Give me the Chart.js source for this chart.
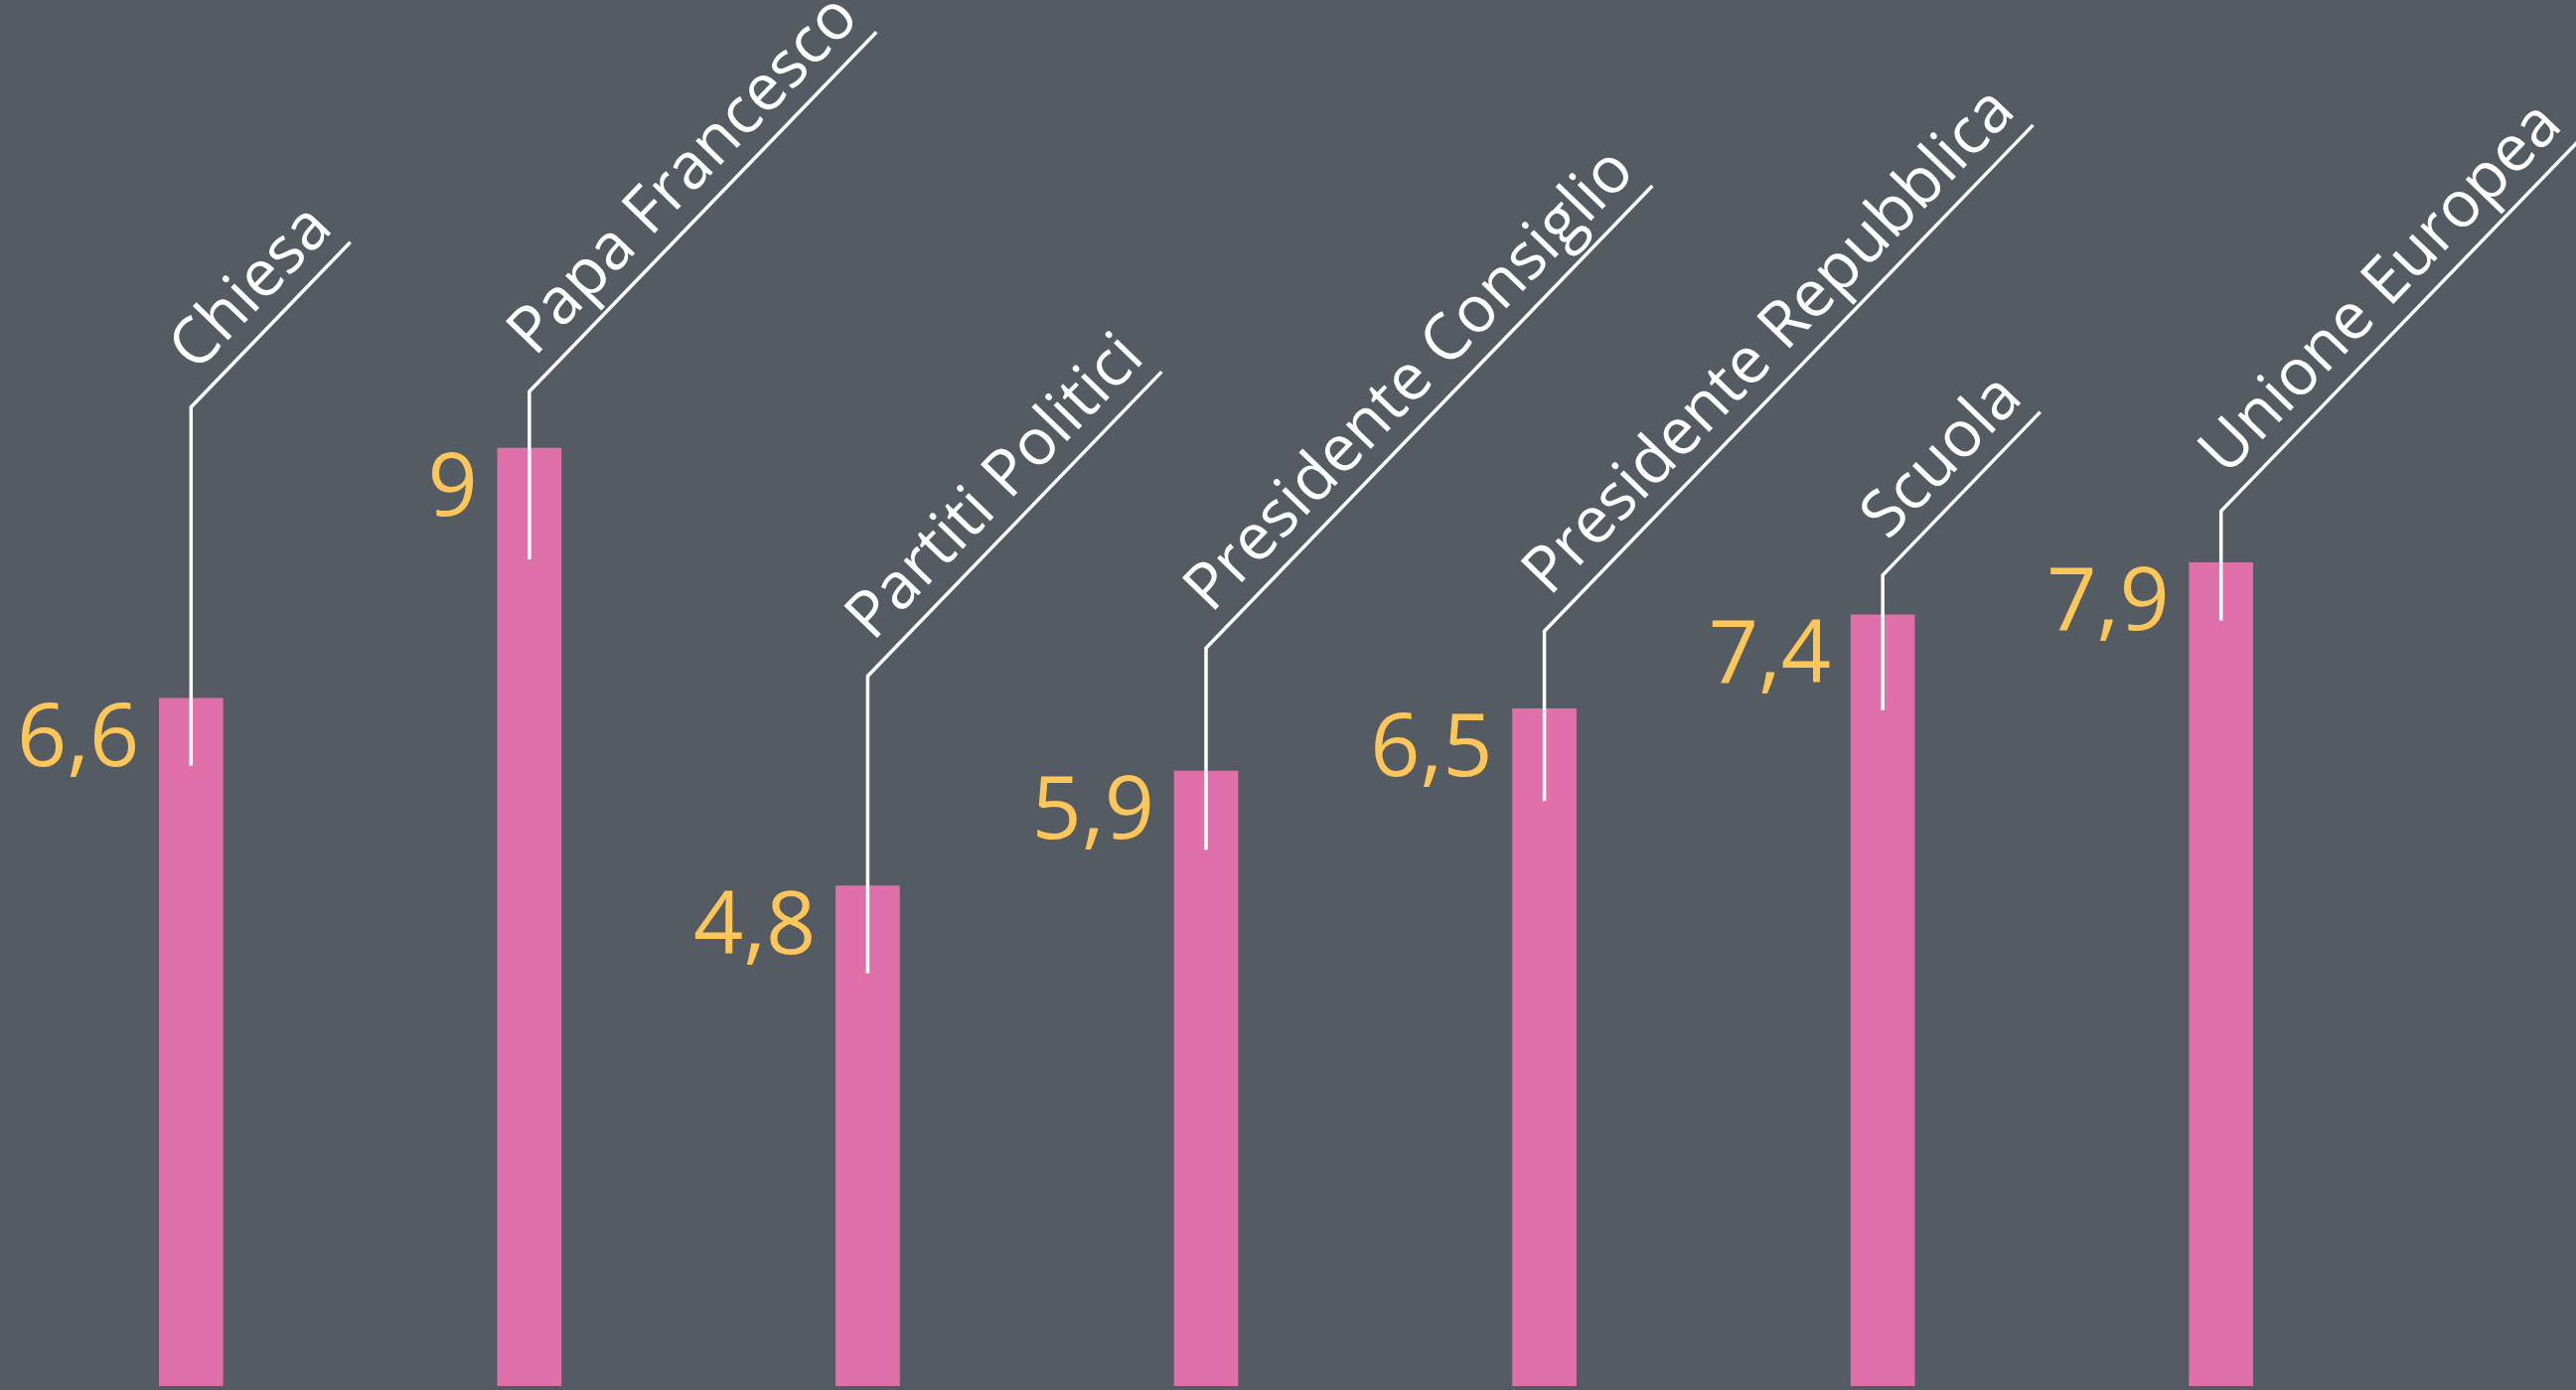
<!DOCTYPE html>
<html>
<head>
<meta charset="utf-8">
<script src="https://cdn.jsdelivr.net/npm/chart.js@4.4.1/dist/chart.umd.min.js"></script>
<style>
  html, body { margin: 0; padding: 0; background: #545b63; overflow: hidden; }
  #wrap { width: 2593px; height: 1399px; position: relative; }
</style>
</head>
<body>
<div id="wrap"><canvas id="chart"></canvas></div>
<script>
// Fiducia nelle istituzioni (voto medio)
const categories = ['Chiesa', 'Papa Francesco', 'Partiti Politici', 'Presidente Consiglio',
  'Presidente Repubblica', 'Scuola', 'Unione Europea'];
const values = [6.6, 9, 4.8, 5.9, 6.5, 7.4, 7.9];

const PINK = '#e070aa';
const YELLOW = '#fdc65a';
const WHITE = '#ffffff';

// leader lines: how high the elbow sits above the bar top and how deep the line goes into the bar (px)
const leaderLayout = {
  rise: [293, 57, 211, 124, 78, 40, 52],
  drop: [68, 112, 88, 79, 93, 96, 58]
};

const labelPlugin = {
  id: 'labels',
  afterDatasetsDraw(chart) {
    const ctx = chart.ctx;
    const meta = chart.getDatasetMeta(0);
    const angle = 46 * Math.PI / 180;
    const ux = Math.cos(angle), uy = -Math.sin(angle);
    const nx = -Math.sin(angle), ny = -Math.cos(angle);
    const startAlong = 28, gap = 20;

    meta.data.forEach((bar, i) => {
      const x = bar.x;
      const top = bar.y;
      const left = x - bar.width / 2;

      // value to the left of the bar
      ctx.save();
      ctx.font = '88px "Open Sans"';
      ctx.fillStyle = YELLOW;
      ctx.textAlign = 'right';
      ctx.textBaseline = 'alphabetic';
      ctx.fillText(String(values[i]).replace('.', ','), left - 20, top + 68);
      ctx.restore();

      // leader line
      ctx.font = '65px "Open Sans"';
      const w = ctx.measureText(categories[i]).width;
      const ex = x, ey = top - leaderLayout.rise[i];
      const len = startAlong + w + 2;
      ctx.save();
      ctx.strokeStyle = WHITE;
      ctx.lineWidth = 3.5;
      ctx.beginPath();
      ctx.moveTo(x, top + leaderLayout.drop[i]);
      ctx.lineTo(ex, ey);
      ctx.lineTo(ex + ux * len, ey + uy * len);
      ctx.stroke();
      ctx.restore();

      // category name along the diagonal
      ctx.save();
      ctx.translate(ex + ux * startAlong + nx * gap, ey + uy * startAlong + ny * gap);
      ctx.rotate(-angle);
      ctx.fillStyle = WHITE;
      ctx.textAlign = 'left';
      ctx.textBaseline = 'alphabetic';
      ctx.fillText(categories[i], 0, 0);
      ctx.restore();
    });
  }
};

new Chart(document.getElementById('chart'), {
  type: 'bar',
  data: {
    labels: categories,
    datasets: [{
      data: values,
      backgroundColor: PINK,
      borderWidth: 0,
      barThickness: 64
    }]
  },
  options: {
    responsive: true,
    maintainAspectRatio: false,
    animation: false,
    layout: { padding: { left: 22, right: 187, top: 0, bottom: 4 } },
    plugins: {
      legend: { display: false },
      tooltip: { enabled: false }
    },
    scales: {
      x: { display: false },
      y: { display: false, min: 0, max: 13.3 }
    }
  },
  plugins: [labelPlugin]
});
</script>
</body>
</html>
